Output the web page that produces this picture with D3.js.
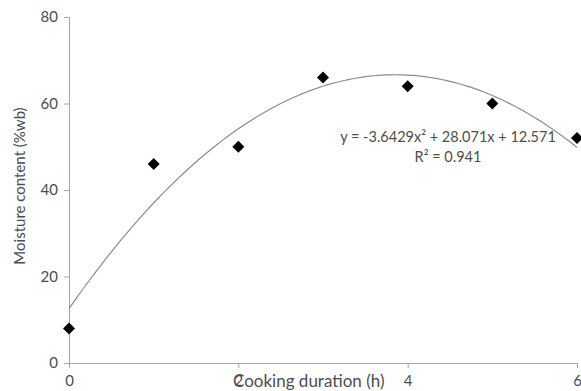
<!DOCTYPE html>
<html>
<head>
<meta charset="utf-8">
<script src="https://cdn.jsdelivr.net/npm/d3@7"></script>
<style>
  body { margin: 0; background: #fff; }
  text { font-family: Lato, "Open Sans", sans-serif; fill: #4d4d4d; }
</style>
</head>
<body>
<svg id="chart"></svg>
<script>
// Data
const hours = [0, 1, 2, 3, 4, 5, 6];
const moisture = [8, 46, 50, 66, 64, 60, 52];
const xTicks = [0, 2, 4, 6];
const yTicks = [0, 20, 40, 60, 80];
// fitted trendline coefficients (a x^2 + b x + c)
const coef = [-3.6429, 28.071, 12.571];

const width = 581;
const height = 391;

const svg = d3.select("#chart")
    .attr("width", width)
    .attr("height", height);

// Scales
const xScale = d3.scaleLinear().domain([0, 6]).range([69, 577]);
const yScale = d3.scaleLinear().domain([0, 80]).range([363, 17]);

// Y axis
const yAxis = svg.append("g")
    .attr("transform", `translate(${xScale(0)},0)`)
    .call(d3.axisLeft(yScale).tickValues(yTicks).tickFormat(d3.format("d")).tickSize(5).tickPadding(6));
yAxis.select(".domain").attr("stroke", "#a6a6a6");
yAxis.selectAll(".tick line").attr("stroke", "#a6a6a6");
yAxis.selectAll("text").attr("font-size", 15).attr("fill", "#4d4d4d").attr("font-family", "Lato, sans-serif");

// X axis
const xAxis = svg.append("g")
    .attr("transform", `translate(0,${yScale(0)})`)
    .call(d3.axisBottom(xScale).tickValues(xTicks).tickFormat(d3.format("d")).tickSize(5).tickPadding(7));
xAxis.select(".domain").attr("stroke", "#a6a6a6");
xAxis.selectAll(".tick line").attr("stroke", "#a6a6a6");
xAxis.selectAll("text").attr("font-size", 15).attr("fill", "#4d4d4d").attr("font-family", "Lato, sans-serif");

// Trendline
const fit = x => coef[0] * x * x + coef[1] * x + coef[2];
const xs = d3.range(0, 6.001, 0.05);
svg.append("path")
    .datum(xs)
    .attr("fill", "none")
    .attr("stroke", "#8c8c8c")
    .attr("stroke-width", 1.2)
    .attr("d", d3.line().x(d => xScale(d)).y(d => yScale(fit(d))));

// Points
svg.selectAll(".pt")
    .data(hours)
    .enter()
    .append("path")
    .attr("class", "pt")
    .attr("d", d3.symbol().type(d3.symbolSquare).size(72))
    .attr("transform", (d, i) => `translate(${xScale(d)},${yScale(moisture[i])}) rotate(45)`)
    .attr("fill", "#000");

// Equation
svg.append("text")
    .attr("x", 448).attr("y", 142)
    .attr("text-anchor", "middle")
    .attr("font-size", 14.5)
    .text("y = -3.6429x² + 28.071x + 12.571");
svg.append("text")
    .attr("x", 448).attr("y", 162)
    .attr("text-anchor", "middle")
    .attr("font-size", 14.5)
    .text("R² = 0.941");

// Axis titles
svg.append("text")
    .attr("x", 233).attr("y", 387)
    .attr("font-size", 17)
    .text("Cooking duration (h)");
svg.append("text")
    .attr("transform", "translate(25,186) rotate(-90)")
    .attr("text-anchor", "middle")
    .attr("font-size", 15)
    .text("Moisture content (%wb)");
</script>
</body>
</html>
